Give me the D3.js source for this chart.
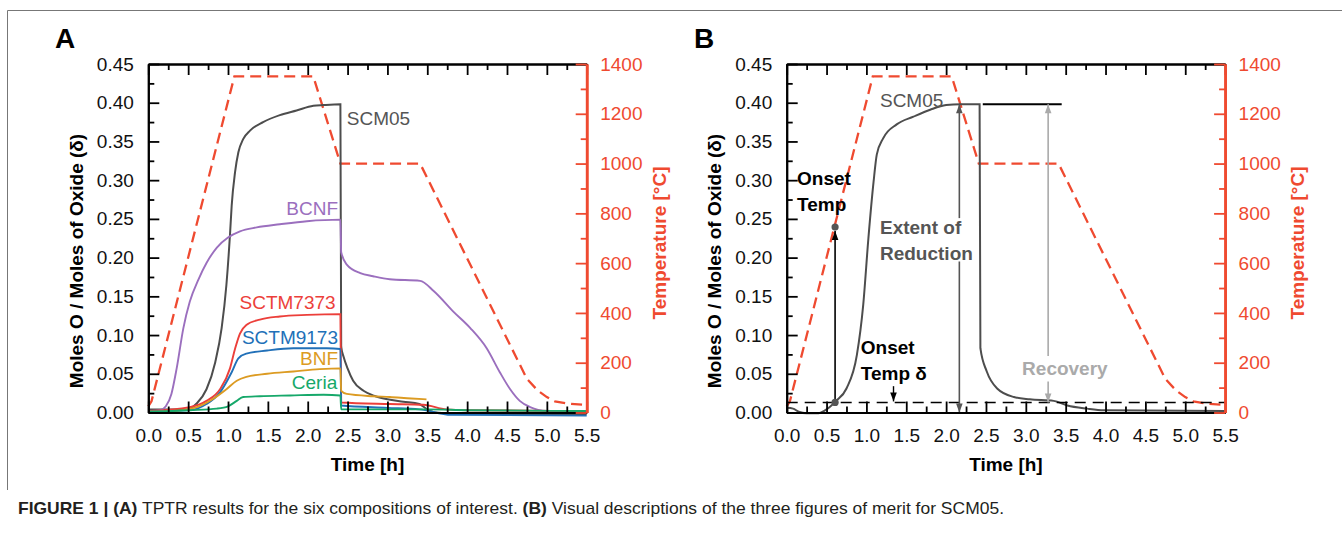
<!DOCTYPE html>
<html>
<head>
<meta charset="utf-8">
<script src="https://cdn.jsdelivr.net/npm/d3@7"></script>
<style>
  body { margin: 0; background: #fff; }
  svg { display: block; font-family: "Liberation Sans", Arial, Helvetica, sans-serif; }
</style>
</head>
<body>
<svg id="fig" width="1342" height="533"></svg>
<script>
// ---- tick values ----
const xTicks = [0, 0.5, 1, 1.5, 2, 2.5, 3, 3.5, 4, 4.5, 5, 5.5];
const xMinor = [0.25, 0.75, 1.25, 1.75, 2.25, 2.75, 3.25, 3.75, 4.25, 4.75, 5.25];
const deltaTicks = [0, 0.05, 0.1, 0.15, 0.2, 0.25, 0.3, 0.35, 0.4, 0.45];
const deltaMinor = [0.025, 0.075, 0.125, 0.175, 0.225, 0.275, 0.325, 0.375, 0.425];
const tempTicks = [0, 200, 400, 600, 800, 1000, 1200, 1400];
const tempMinor = [100, 300, 500, 700, 900, 1100, 1300];

// ---- temperature program [h, degC] ----
const tempProfile = [[0, 25], [0.04, 45], [1.08, 1350], [2.07, 1350], [2.41, 1000], [3.41, 1000],
  [4.75, 135], [4.88, 90], [5.0, 62], [5.1, 45], [5.25, 36], [5.5, 30]];

// ---- panel A, delta vs time ----
const scm05A = [[0, 0.004], [0.3, 0.004], [0.48, 0.004], [0.61, 0.012], [0.73, 0.03], [0.84, 0.065],
  [0.92, 0.109], [0.98, 0.165], [1.025, 0.23], [1.046, 0.267], [1.088, 0.31], [1.13, 0.336],
  [1.19, 0.353], [1.276, 0.364], [1.44, 0.375], [1.65, 0.384], [1.86, 0.39], [2.07, 0.396],
  [2.2, 0.397], [2.41, 0.398], [2.42, 0.085], [2.45, 0.072], [2.5, 0.057], [2.57, 0.041],
  [2.7, 0.028], [2.85, 0.021], [3.0, 0.017], [3.2, 0.014], [3.4, 0.011], [3.5, 0.004],
  [3.6, 0.0], [4.0, -0.002], [5.5, -0.002]];
const bcnf = [[0, 0.002], [0.15, 0.003], [0.22, 0.008], [0.29, 0.024], [0.356, 0.057], [0.44, 0.109],
  [0.52, 0.143], [0.63, 0.172], [0.73, 0.193], [0.86, 0.213], [1.0, 0.226], [1.15, 0.234],
  [1.36, 0.239], [1.65, 0.243], [1.99, 0.247], [2.41, 0.249], [2.42, 0.207], [2.49, 0.191],
  [2.66, 0.18], [2.82, 0.176], [3.03, 0.172], [3.41, 0.17], [3.58, 0.157], [3.83, 0.13],
  [4.04, 0.109], [4.245, 0.083], [4.41, 0.052], [4.54, 0.03], [4.66, 0.015], [4.79, 0.007],
  [5.0, 0.002], [5.5, 0.001]];
const sctm7373 = [[0, 0.002], [0.52, 0.007], [0.73, 0.015], [0.9, 0.03], [1.025, 0.057], [1.09, 0.083],
  [1.15, 0.102], [1.23, 0.113], [1.4, 0.12], [1.65, 0.124], [1.99, 0.126], [2.41, 0.127],
  [2.42, 0.013], [3.03, 0.011], [3.45, 0.01], [3.74, 0.004], [4.0, 0.003], [5.5, 0.002]];
const sctm9173 = [[0, 0.001], [0.52, 0.003], [0.73, 0.011], [0.9, 0.026], [1.046, 0.052], [1.13, 0.07],
  [1.23, 0.076], [1.49, 0.08], [1.82, 0.083], [2.24, 0.083], [2.41, 0.082], [2.42, 0.009],
  [3.0, 0.006], [3.4, 0.004], [3.8, -0.003], [5.5, -0.004]];
const bnf = [[0, 0.001], [0.31, 0.002], [0.61, 0.007], [0.82, 0.018], [0.98, 0.03], [1.11, 0.041],
  [1.23, 0.046], [1.49, 0.05], [1.82, 0.053], [2.15, 0.056], [2.41, 0.057], [2.42, 0.028],
  [2.49, 0.024], [2.82, 0.021], [3.03, 0.02], [3.3, 0.018], [3.49, 0.017]];
const ceria = [[0, 0.001], [0.52, 0.003], [0.86, 0.005], [1.0, 0.008], [1.11, 0.015], [1.19, 0.02],
  [1.4, 0.021], [1.78, 0.022], [2.2, 0.023], [2.41, 0.022], [2.42, 0.004], [3.5, 0.004],
  [4.0, 0.003], [5.5, 0.002]];

// ---- panel B ----
const scm05B = [[0, 0.006], [0.08, 0.005], [0.15, 0.001], [0.25, -0.001], [0.4, -0.001], [0.47, 0.002],
  [0.54, 0.007], [0.61, 0.014], [0.75, 0.031], [0.88, 0.074], [0.96, 0.139], [1.025, 0.225],
  [1.09, 0.298], [1.13, 0.333], [1.21, 0.354], [1.38, 0.372], [1.59, 0.382], [1.8, 0.391],
  [2.0, 0.397], [2.18, 0.398], [2.42, 0.398], [2.43, 0.083], [2.51, 0.053], [2.64, 0.031],
  [2.85, 0.02], [3.05, 0.017], [3.35, 0.015], [3.52, 0.009], [3.77, 0.005], [3.98, 0.003], [5.5, 0.002]];
const onsetTime = 0.607;
const onsetDelta = 0.013;
const onsetTemp = 745;
const maxDelta = 0.398;

const seriesNames = ["SCM05", "BCNF", "SCTM7373", "SCTM9173", "BNF", "Ceria"];
const seriesColors = ["#4d4d4d", "#9b6fbe", "#ec3f3a", "#2170b8", "#dc9b22", "#16a86a"];
const seriesA = [scm05A, bcnf, sctm7373, sctm9173, bnf, ceria];

const tempColor = "#ef4a30";

const svg = d3.select("#fig");

// arrow heads
const defs = svg.append("defs");
[["arrBlack", "#000"], ["arrGray", "#555"], ["arrLight", "#aaa"]].forEach(([id, c]) => {
  defs.append("marker").attr("id", id)
    .attr("viewBox", "-10 -5 10 10").attr("refX", 0).attr("refY", 0)
    .attr("markerWidth", 10).attr("markerHeight", 10)
    .attr("markerUnits", "userSpaceOnUse").attr("orient", "auto-start-reverse")
    .append("path").attr("d", "M0,0L-9,-3.3L-9,3.3Z").attr("fill", c);
});

// figure frame + caption
svg.append("line").attr("x1", 7.5).attr("x2", 1342).attr("y1", 10.5).attr("y2", 10.5).attr("stroke", "#777");
svg.append("line").attr("x1", 7.5).attr("x2", 7.5).attr("y1", 10.5).attr("y2", 490).attr("stroke", "#777");

const cap = svg.append("text").attr("x", 18).attr("y", 514).attr("font-size", 17).attr("fill", "#231f20")
  .attr("textLength", 986).attr("lengthAdjust", "spacingAndGlyphs");
cap.append("tspan").attr("font-weight", "bold").text("FIGURE 1 | (A)");
cap.append("tspan").text(" TPTR results for the six compositions of interest. ");
cap.append("tspan").attr("font-weight", "bold").text("(B)");
cap.append("tspan").text(" Visual descriptions of the three figures of merit for SCM05.");

function addAxis(g, makeAxis, tf, major, minor, fmt, pad, color) {
  const gm = g.append("g").attr("transform", tf)
    .call(makeAxis().tickValues(minor).tickSizeInner(-6).tickSizeOuter(0).tickFormat(""));
  const gM = g.append("g").attr("transform", tf)
    .call(makeAxis().tickValues(major).tickSizeInner(-11).tickSizeOuter(0).tickPadding(pad).tickFormat(fmt));
  [gm, gM].forEach(a => {
    a.attr("font-family", null).attr("font-size", 19);
    a.selectAll("line").attr("stroke", color).attr("stroke-width", 1.8);
    a.select(".domain").attr("stroke", color).attr("stroke-width", color === "#000" ? 2 : 2.6);
    a.selectAll("text").attr("fill", color === "#000" ? "#111" : color);
  });
}

function drawPanel(p) {
  const g = svg.append("g");
  const x = d3.scaleLinear().domain([0, 5.5]).range([p.left, p.right]);
  const y = d3.scaleLinear().domain([0, 0.45]).range([p.bottom, p.top]);
  const yT = d3.scaleLinear().domain([0, 1400]).range([p.bottom, p.top]);

  const line = d3.line().x(d => x(d[0])).y(d => y(d[1])).curve(d3.curveMonotoneX);
  const tLine = d3.line().x(d => x(d[0])).y(d => yT(d[1]));

  // temperature program
  g.append("path").attr("d", tLine(tempProfile)).attr("fill", "none")
    .attr("stroke", tempColor).attr("stroke-width", 2.3).attr("stroke-dasharray", "11,6");

  p.draw(g, x, y, yT, line);

  // axes
  const none = () => "";
  addAxis(g, () => d3.axisTop(x), `translate(0,${p.top})`, xTicks, xMinor, none, 0, "#000");
  addAxis(g, () => d3.axisBottom(x), `translate(0,${p.bottom})`, xTicks, xMinor, d3.format(".1f"), 16, "#000");
  addAxis(g, () => d3.axisLeft(y), `translate(${p.left},0)`, deltaTicks, deltaMinor, d3.format(".2f"), 14.5, "#000");
  addAxis(g, () => d3.axisRight(yT), `translate(${p.right},0)`, tempTicks, tempMinor, d3.format("d"), 13.5, tempColor);

  // titles
  g.append("text").attr("x", (p.left + p.right) / 2).attr("y", 471).attr("text-anchor", "middle")
    .attr("font-size", 19).attr("font-weight", "bold").text("Time [h]");
  g.append("text").attr("transform", `translate(${p.left - 65.5},261) rotate(-90)`).attr("text-anchor", "middle")
    .attr("font-size", 19).attr("font-weight", "bold").text("Moles O / Moles of Oxide (δ)");
  g.append("text").attr("transform", `translate(${p.right + 79},243) rotate(-90)`).attr("text-anchor", "middle")
    .attr("font-size", 19).attr("font-weight", "bold").attr("fill", tempColor).text("Temperature [°C]");
  g.append("text").attr("x", p.letterX).attr("y", 48).attr("font-size", 28).attr("font-weight", "bold").text(p.letter);
}

// ---- panel A ----
drawPanel({
  left: 148.3, right: 586.7, top: 64, bottom: 412.5, letter: "A", letterX: 55,
  draw: (g, x, y, yT, line) => {
    seriesA.forEach((s, i) => {
      g.append("path").attr("d", line(s)).attr("fill", "none")
        .attr("stroke", seriesColors[i]).attr("stroke-width", i === 0 ? 2 : 1.9);
    });
    // labels: [t, delta, anchor]
    const lab = [[2.49, 0.371, "start"], [2.38, 0.255, "end"], [2.35, 0.1335, "end"],
      [2.38, 0.0885, "end"], [2.38, 0.0613, "end"], [2.37, 0.0303, "end"]];
    lab.forEach((l, i) => {
      g.append("text").attr("x", x(l[0])).attr("y", y(l[1])).attr("text-anchor", l[2])
        .attr("font-size", 19).attr("fill", i === 0 ? "#555" : seriesColors[i]).text(seriesNames[i]);
    });
  }
});

// ---- panel B ----
drawPanel({
  left: 786.7, right: 1225.1, top: 64, bottom: 412.5, letter: "B", letterX: 694,
  draw: (g, x, y, yT, line) => {
    g.append("path").attr("d", line(scm05B)).attr("fill", "none").attr("stroke", "#4d4d4d").attr("stroke-width", 2);
    g.append("text").attr("x", x(1.17)).attr("y", y(0.3945)).attr("font-size", 19).attr("fill", "#555").text("SCM05");

    // onset delta threshold
    g.append("line").attr("x1", x(0)).attr("x2", x(5.5)).attr("y1", y(onsetDelta)).attr("y2", y(onsetDelta))
      .attr("stroke", "#000").attr("stroke-width", 1.6).attr("stroke-dasharray", "11,7");

    // max extent line
    g.append("line").attr("x1", x(2.46)).attr("x2", x(3.45)).attr("y1", y(maxDelta)).attr("y2", y(maxDelta))
      .attr("stroke", "#000").attr("stroke-width", 1.8);

    // onset temperature arrow
    g.append("line").attr("x1", x(onsetTime)).attr("x2", x(onsetTime))
      .attr("y1", y(onsetDelta)).attr("y2", yT(onsetTemp) + 4)
      .attr("stroke", "#000").attr("stroke-width", 1.6).attr("marker-end", "url(#arrBlack)");
    [y(onsetDelta), yT(onsetTemp)].forEach(cy => {
      g.append("circle").attr("cx", x(onsetTime)).attr("cy", cy).attr("r", 3.6).attr("fill", "#555");
    });

    // small arrow onto threshold
    g.append("line").attr("x1", x(1.34)).attr("x2", x(1.34)).attr("y1", y(0.034)).attr("y2", y(onsetDelta) - 1)
      .attr("stroke", "#000").attr("stroke-width", 1.4).attr("marker-end", "url(#arrBlack)");

    // extent of reduction arrow (split around the text)
    g.append("line").attr("x1", x(2.166)).attr("x2", x(2.166)).attr("y1", y(0.251)).attr("y2", y(maxDelta))
      .attr("stroke", "#555").attr("stroke-width", 1.6).attr("marker-end", "url(#arrGray)");
    g.append("line").attr("x1", x(2.166)).attr("x2", x(2.166)).attr("y1", y(0.195)).attr("y2", y(0))
      .attr("stroke", "#555").attr("stroke-width", 1.6).attr("marker-end", "url(#arrGray)");

    // recovery arrow
    g.append("line").attr("x1", x(3.28)).attr("x2", x(3.28)).attr("y1", y(0.073)).attr("y2", y(maxDelta))
      .attr("stroke", "#aaa").attr("stroke-width", 1.6).attr("marker-end", "url(#arrLight)");
    g.append("line").attr("x1", x(3.28)).attr("x2", x(3.28)).attr("y1", y(0.04)).attr("y2", y(onsetDelta))
      .attr("stroke", "#aaa").attr("stroke-width", 1.6).attr("marker-end", "url(#arrLight)");

    const note = (t, d, lines, color, anchor) => {
      lines.forEach((s, i) => {
        g.append("text").attr("x", x(t)).attr("y", y(d) + i * 26).attr("text-anchor", anchor || "start")
          .attr("font-size", 19).attr("font-weight", "bold").attr("fill", color).text(s);
      });
    };
    note(0.13, 0.294, ["Onset", "Temp"], "#000");
    note(0.93, 0.0755, ["Onset", "Temp δ"], "#000");
    note(1.17, 0.2305, ["Extent of", "Reduction"], "#555");
    note(3.49, 0.0484, ["Recovery"], "#aaa", "middle");
  }
});
</script>
</body>
</html>
